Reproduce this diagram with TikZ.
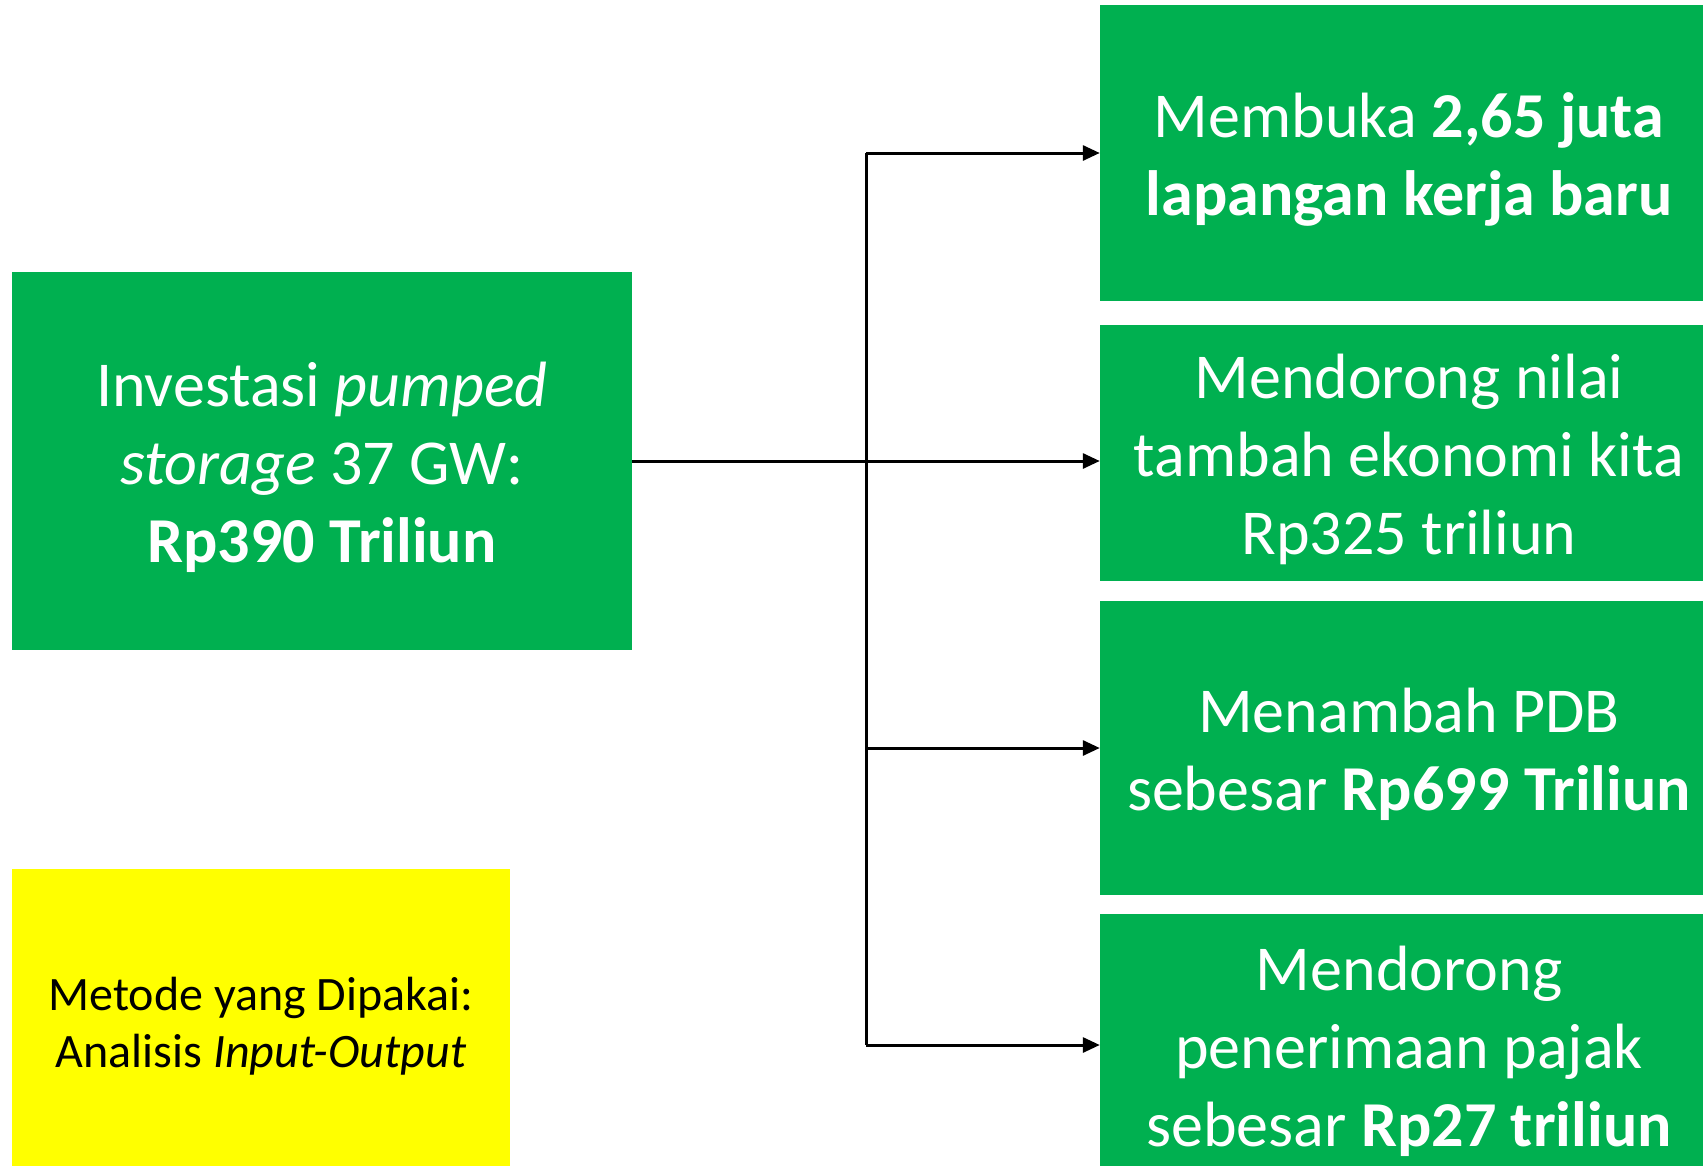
\documentclass[tikz,border=0pt]{standalone}
\usepackage{fontspec}
\setmainfont{Carlito}
\usetikzlibrary{arrows.meta}
\definecolor{boxgreen}{HTML}{00B050}
\definecolor{boxyellow}{HTML}{FFFF00}
\begin{document}
\begin{tikzpicture}[x=1pt,y=-1pt,
  gbox/.style={rectangle,fill=boxgreen,draw=none,inner sep=0pt},
  ybox/.style={rectangle,fill=boxyellow,draw=none,inner sep=0pt},
  gtxt/.style={inner sep=0pt,text=white,align=center,
    font=\fontsize{64}{78}\selectfont},
  ytxt/.style={inner sep=0pt,text=black,align=center,
    font=\fontsize{48}{57}\selectfont},
  conn/.style={line width=3pt,-{Triangle[length=17pt,width=15pt]}},
  plain/.style={line width=3pt}]
\useasboundingbox (0,0) rectangle (1703,1165);
\begin{scope}
\clip (0,0) rectangle (1703,1165);
\node[gbox,minimum width=620pt,minimum height=378pt] (L) at (322,461) {};
\node[gtxt] (Lt) at ([yshift=-6pt]L.center)
  {Investasi \textit{pumped}\\\textit{storage} 37 GW:\\\textbf{Rp390 Triliun}};
\node[ybox,minimum width=498pt,minimum height=306pt] (Y) at (261,1022) {};
\node[ytxt] (Yt) at ([yshift=-4pt]Y.center)
  {Metode yang Dipakai:\\Analisis \textit{Input-Output}};
\node[gbox,minimum width=618pt,minimum height=296pt] (B1) at (1409,153) {};
\node[gtxt] (B1t) at ([yshift=-6pt]B1.center)
  {Membuka \textbf{2,65 juta}\\\textbf{lapangan kerja baru}};
\node[gbox,minimum width=618pt,minimum height=256pt] (B2) at (1409,453) {};
\node[gtxt] (B2t) at ([yshift=-6pt]B2.center)
  {Mendorong nilai\\tambah ekonomi kita\\Rp325 triliun};
\node[gbox,minimum width=618pt,minimum height=294pt] (B3) at (1409,748) {};
\node[gtxt] (B3t) at ([yshift=-6pt]B3.center)
  {Menambah PDB\\sebesar \textbf{Rp699 Triliun}};
\node[gbox,minimum width=618pt,minimum height=262pt] (B4) at (1409,1045) {};
\node[gtxt] (B4t) at ([yshift=-6pt]B4.center)
  {Mendorong\\penerimaan pajak\\sebesar \textbf{Rp27 triliun}};
\end{scope}
\coordinate (J) at (866,461);
\draw[conn] (L.east) -- (L.east -| B2.west);
\draw[plain] (J) -- (J |- B1.west);
\draw[plain] (J) -- (J |- B4.west);
\draw[conn] (J |- B1.west) -- (B1.west);
\draw[conn] (J |- B3.west) -- (B3.west);
\draw[conn] (J |- B4.west) -- (B4.west);
\end{tikzpicture}
\end{document}
